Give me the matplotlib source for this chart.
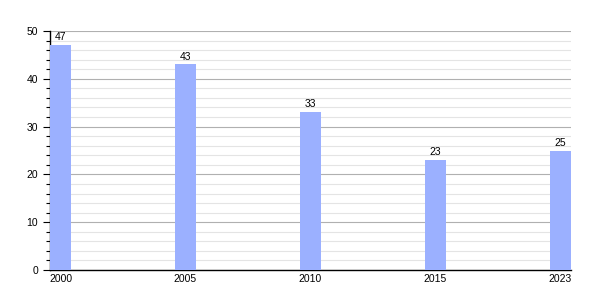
import matplotlib
matplotlib.use("Agg")
import matplotlib.pyplot as plt
from matplotlib.ticker import MultipleLocator

years = ["2000", "2005", "2010", "2015", "2023"]
values = [47, 43, 33, 23, 25]

plt.rcParams['font.family'] = ['Liberation Sans', 'DejaVu Sans']
fig = plt.figure(figsize=(6, 3), dpi=100)
ax = fig.add_axes([50/600, 30/300, 521/600, 239/300])

w = 0.168
x = list(range(len(years)))
bars = ax.bar(x, values, width=w, align='edge', color='#9bb0ff', zorder=3)
for xi, v in zip(x, values):
    ax.text(xi + w/2, v + 0.6, str(v), ha='center', va='bottom', fontsize=7.5, zorder=4)

ax.set_xlim(0, len(years) - 1 + w)
ax.set_ylim(0, 50)
ax.set_xticks([xi + w/2 for xi in x])
ax.set_xticklabels(years, fontsize=7.5)
ax.yaxis.set_major_locator(MultipleLocator(10))
ax.yaxis.set_minor_locator(MultipleLocator(2))
ax.tick_params(axis='y', which='major', length=5, labelsize=7.5, width=0.8)
ax.tick_params(axis='y', which='minor', length=3, width=0.8)
ax.tick_params(axis='x', length=0, pad=3)
ax.grid(axis='y', which='major', color='#b0b0b0', linewidth=0.8, zorder=1)
ax.grid(axis='y', which='minor', color='#e4e4e4', linewidth=0.8, zorder=1)
for s in ['top', 'right']:
    ax.spines[s].set_visible(False)
ax.spines['left'].set_linewidth(1)
ax.spines['bottom'].set_linewidth(1)

fig.savefig("out.png", dpi=100)
